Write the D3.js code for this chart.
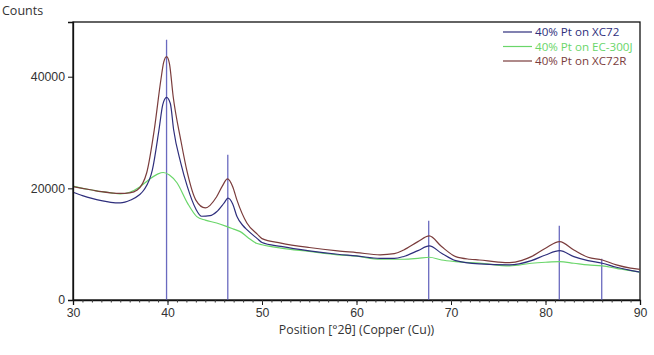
<!DOCTYPE html>
<html>
<head>
<meta charset="utf-8">
<script src="https://cdn.jsdelivr.net/npm/d3@7"></script>
<style>
  html, body { margin: 0; padding: 0; background: #fff; }
  svg { display: block; font-family: "Open Sans", "Noto Sans", sans-serif; }
</style>
</head>
<body>
<svg id="chart" width="654" height="355"></svg>
<script>
// ---- data ----
const seriesNames = ["40% Pt on XC72", "40% Pt on EC-300J", "40% Pt on XC72R"];
const seriesColors = ["#2e2e7c", "#6ad66a", "#7a3c3c"];

const xc72X = [30,31,32,33,34,35,36.1,37,37.5,38.4,39.1,39.5,39.9,40.3,40.65,41.4,42.1,43,43.6,44.5,45.2,46,46.4,46.9,47.35,48,48.4,49.5,50,52,55,58,60,62.5,64,65,66.5,67.7,69,70.5,73,76.2,78.5,80,81.5,83,84.5,86,87.5,89,90];
const xc72Y = [19300,18700,18200,17800,17500,17400,17900,18800,19700,23300,30500,35000,36300,35200,30500,24560,20300,16300,15000,15100,15800,17400,18240,17200,14940,13300,12600,11000,10300,9600,8800,8200,7900,7450,7450,7800,8840,9690,8380,7050,6460,6280,7050,8070,8840,7770,7050,6580,5860,5300,5000];

const ec300X = [30,31,32,33,34,35,36,37.1,38,39,39.55,40.2,41,42.1,43.1,44,45.2,46.3,47,47.7,48.5,49.4,50,52,55,58,60,62.5,65,66.5,67.7,69,70.5,73,76.2,78.5,80,81.5,83,84.5,86,87.5,89,90];
const ec300Y = [20400,20000,19700,19400,19200,19000,19300,20300,21500,22600,22840,22400,21000,17400,14940,14300,13800,13150,12700,12250,11200,10170,9900,9300,8700,8100,7850,7300,7300,7470,7660,7170,6870,6600,6100,6580,6760,6870,6580,6280,6100,5680,5250,5000];

const xc72rX = [30,31,32,33,34,35,36,36.8,37.8,38.6,39.3,39.6,39.9,40.2,40.6,41.4,42.1,43,44,45.2,45.8,46.35,46.9,47.35,48.4,49.5,50,52,55,58,60,62.5,64,65,66.5,67.7,69,70.5,72,73,75,76.2,77.5,78.5,80,81.5,83,84.5,86,87.5,89,90];
const xc72rY = [20300,20000,19700,19400,19200,19100,19200,19700,22800,30500,39460,42600,43600,42400,36460,28700,22800,17900,16500,18500,20400,21700,20300,17900,13800,11800,11000,10200,9400,8800,8500,8100,8300,8970,10460,11480,9570,7770,7300,7170,6800,6700,7100,7770,9270,10460,8970,7650,7170,6280,5700,5500];

const refX = [39.9, 46.38, 67.64, 81.46, 85.95];
const refY = [46600, 26000, 14200, 13300, 7400];

const xTicks = [30,40,50,60,70,80,90];
const yTicks = [0,20000,40000];
const xTitle = "Position [°2θ] (Copper (Cu))";
const yTitle = "Counts";

// ---- layout ----
const svg = d3.select("#chart");
const L = 73, R = 640, T = 22, B = 300;
const x = d3.scaleLinear().domain([30, 90]).range([L, R]);
const y = d3.scaleLinear().domain([0, 49800]).range([B, T]);

// frame
svg.append("rect").attr("x", L).attr("y", T).attr("width", R - L).attr("height", B - T)
  .attr("fill", "none").attr("stroke", "#111").attr("stroke-width", 1.3);

// reference sticks
const g = svg.append("g");
refX.forEach((v, i) => {
  g.append("line").attr("x1", x(v)).attr("x2", x(v)).attr("y1", y(0)).attr("y2", y(refY[i]))
    .attr("stroke", "#6a6abf").attr("stroke-width", 1.3);
});

// series
const data = [
  xc72X.map((v, i) => [v, xc72Y[i]]),
  ec300X.map((v, i) => [v, ec300Y[i]]),
  xc72rX.map((v, i) => [v, xc72rY[i]])
];
const line = d3.line().x(d => x(d[0])).y(d => y(d[1])).curve(d3.curveMonotoneX);
[1, 0, 2].forEach(k => {
  g.append("path").datum(data[k]).attr("d", line).attr("fill", "none")
    .attr("stroke", seriesColors[k]).attr("stroke-width", 1.2);
});

// x axis
const xAxis = svg.append("g").attr("transform", `translate(0,${B})`)
  .call(d3.axisBottom(x).tickValues(xTicks).tickSize(5).tickPadding(3).tickFormat(d3.format("d")));
xAxis.select(".domain").attr("stroke", "#111").attr("stroke-width", 1.3);
xAxis.selectAll(".tick line").attr("stroke", "#111");
xAxis.selectAll("text").attr("font-size", 12.3).attr("fill", "#333");
const xMinor = svg.append("g").attr("transform", `translate(0,${B})`)
  .call(d3.axisBottom(x).tickValues(d3.range(31, 90, 1)).tickSize(2.5).tickFormat(""));
xMinor.select(".domain").remove();
xMinor.selectAll(".tick line").attr("stroke", "#333");

// y axis
const yAxis = svg.append("g").attr("transform", `translate(${L},0)`)
  .call(d3.axisLeft(y).tickValues(yTicks).tickSize(5).tickPadding(3).tickFormat(d3.format("d")));
yAxis.select(".domain").attr("stroke", "#111").attr("stroke-width", 1.3);
yAxis.selectAll(".tick line").attr("stroke", "#111");
yAxis.selectAll("text").attr("font-size", 12.3).attr("fill", "#333");

// titles
svg.append("text").attr("x", 2).attr("y", 15).attr("font-size", 12.5).attr("fill", "#333").text(yTitle);
svg.append("text").attr("x", (L + R) / 2).attr("y", 334).attr("text-anchor", "middle")
  .attr("font-size", 12.3).attr("fill", "#333").text(xTitle);

// legend
seriesNames.forEach((n, i) => {
  const yy = 32 + i * 14.5;
  svg.append("line").attr("x1", 503).attr("x2", 532).attr("y1", yy).attr("y2", yy)
    .attr("stroke", seriesColors[i]).attr("stroke-width", 1.2);
  svg.append("text").attr("x", 535).attr("y", yy + 4.2).attr("font-size", 11.6)
    .attr("fill", seriesColors[i]).text(n);
});
</script>
</body>
</html>
